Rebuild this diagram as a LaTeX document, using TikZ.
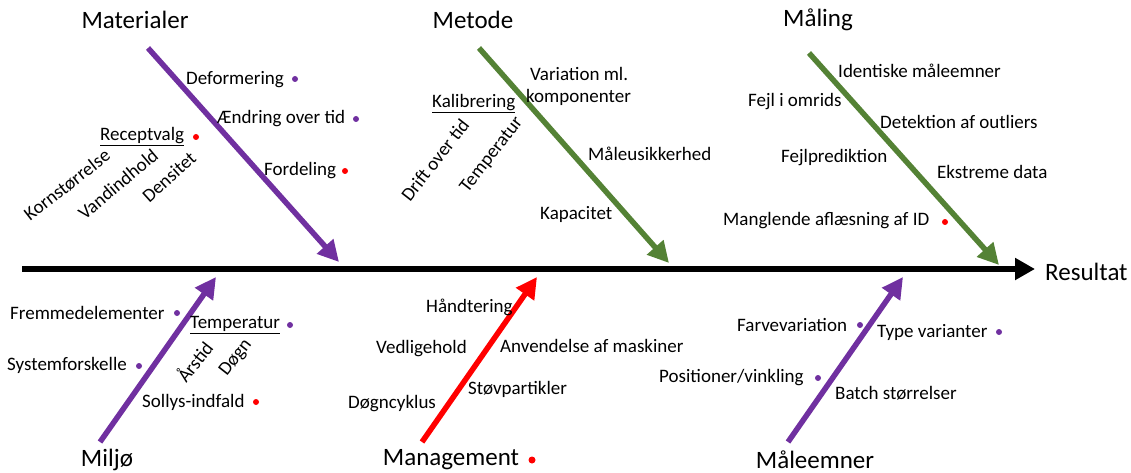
\documentclass[tikz,border=0pt]{standalone}
\usepackage{fontspec}
\setmainfont{Carlito}
\usetikzlibrary{arrows.meta}
\definecolor{purp}{HTML}{7030A0}
\definecolor{grn}{HTML}{548235}
\definecolor{redd}{HTML}{FF0000}
\tikzset{
  lab/.style={anchor=west,inner sep=0pt,font=\fontsize{19}{22}\selectfont},
  rlab/.style={inner sep=0pt,font=\fontsize{19}{22}\selectfont},
  ttl/.style={inner sep=0pt,font=\fontsize{25}{28}\selectfont},
  bone/.style={line width=5.5pt,-{Triangle[length=21pt,width=21pt]}},
  spine/.style={line width=6pt,-{Triangle[length=20pt,width=21pt]}},
  pdot/.style={fill=purp},
  rdot/.style={fill=redd}
}
\begin{document}
\begin{tikzpicture}[x=1pt,y=-1pt]
\useasboundingbox (0,0) rectangle (1131,473);
% titles
\node[ttl] (tmat) at (135,20) {Materialer};
\node[ttl] (tmet) at (473,20) {Metode};
\node[ttl] (tmal) at (818,20) {Måling};
\node[ttl] (tmil) at (107,460) {Miljø};
\node[ttl] (tman) at (451,460) {Management};
\node[ttl] (tmle) at (815,460) {Måleemner};
\node[ttl,anchor=west] (res) at (1045,272) {Resultat};
% spine
\coordinate (spS) at (22,269);
\coordinate (spE) at (1035,269);
\draw[spine] (spS) -- (spE);
% bones
\coordinate (b1s) at (148,48);  \coordinate (b1e) at (339,262);
\coordinate (b2s) at (479,48);  \coordinate (b2e) at (669,263);
\coordinate (b3s) at (809,53);  \coordinate (b3e) at (999,265);
\coordinate (b4s) at (100,442); \coordinate (b4e) at (216,277);
\coordinate (b5s) at (422,442); \coordinate (b5e) at (537,277);
\coordinate (b6s) at (788,442); \coordinate (b6e) at (903,277);
\draw[bone,purp] (b1s) -- (b1e);
\draw[bone,grn] (b2s) -- (b2e);
\draw[bone,grn] (b3s) -- (b3e);
\draw[bone,purp] (b4s) -- (b4e);
\draw[bone,redd] (b5s) -- (b5e);
\draw[bone,purp] (b6s) -- (b6e);
% Materialer
\node[lab] (m1) at (186,80) {Deformering};
\node[lab] (m2) at (217,119) {Ændring over tid};
\node[lab] (m3) at (100,137) {\underline{Receptvalg}};
\node[lab] (m4) at (264,171) {Fordeling};
\node[rlab,rotate=38] (m5) at (67,185) {Kornstørrelse};
\node[rlab,rotate=40] (m6) at (118,184) {Vandindhold};
\node[rlab,rotate=42] (m7) at (169,177) {Densitet};
\fill[pdot] (295,79) circle (3);
\fill[pdot] (356,119) circle (3);
\fill[rdot] (196,137) circle (3);
\fill[rdot] (345,171) circle (3);
% Metode
\node[lab,align=left] (e1) at (526,86) {\hspace*{4pt}Variation ml.\\komponenter};
\node[lab] (e2) at (432,104) {\underline{Kalibrering}};
\node[lab] (e3) at (588,154) {Måleusikkerhed};
\node[lab] (e4) at (540,214) {Kapacitet};
\node[rlab,rotate=52] (e5) at (435,160) {Drift over tid};
\node[rlab,rotate=52] (e6) at (492,155) {Temperatur};
% Maling
\node[lab] (a1) at (838,71) {Identiske måleemner};
\node[lab] (a2) at (748,102) {Fejl i omrids};
\node[lab] (a3) at (880,122) {Detektion af outliers};
\node[lab] (a4) at (781,158) {Fejlprediktion};
\node[lab] (a5) at (937,172) {Ekstreme data};
\node[lab] (a6) at (723,221) {Manglende aflæsning af ID};
\fill[rdot] (945,222) circle (3);
% Miljo
\node[lab] (i1) at (10,313) {Fremmedelementer};
\node[lab] (i2) at (190,325) {\underline{Temperatur}};
\node[lab] (i3) at (7,365) {Systemforskelle};
\node[lab] (i4) at (142,402) {Sollys-indfald};
\node[rlab,rotate=52] (i5) at (194,361) {Årstid};
\node[rlab,rotate=52] (i6) at (236,358) {Døgn};
\fill[pdot] (177,313) circle (3);
\fill[pdot] (290,325) circle (3);
\fill[pdot] (139,366) circle (3);
\fill[rdot] (256,402) circle (3);
% Management
\node[lab] (g1) at (426,307) {Håndtering};
\node[lab] (g2) at (376,349) {Vedligehold};
\node[lab] (g3) at (500,346) {Anvendelse af maskiner};
\node[lab] (g4) at (468,389) {Støvpartikler};
\node[lab] (g5) at (348,404) {Døgncyklus};
\fill[rdot] (532,460) circle (3.5);
% Maleemner
\node[lab] (n1) at (737,325) {Farvevariation};
\node[lab] (n2) at (877,332) {Type varianter};
\node[lab] (n3) at (659,378) {Positioner/vinkling};
\node[lab] (n4) at (835,393) {Batch størrelser};
\fill[pdot] (860,325) circle (3);
\fill[pdot] (999,332) circle (3);
\fill[pdot] (818,378) circle (3);
\end{tikzpicture}
\end{document}
